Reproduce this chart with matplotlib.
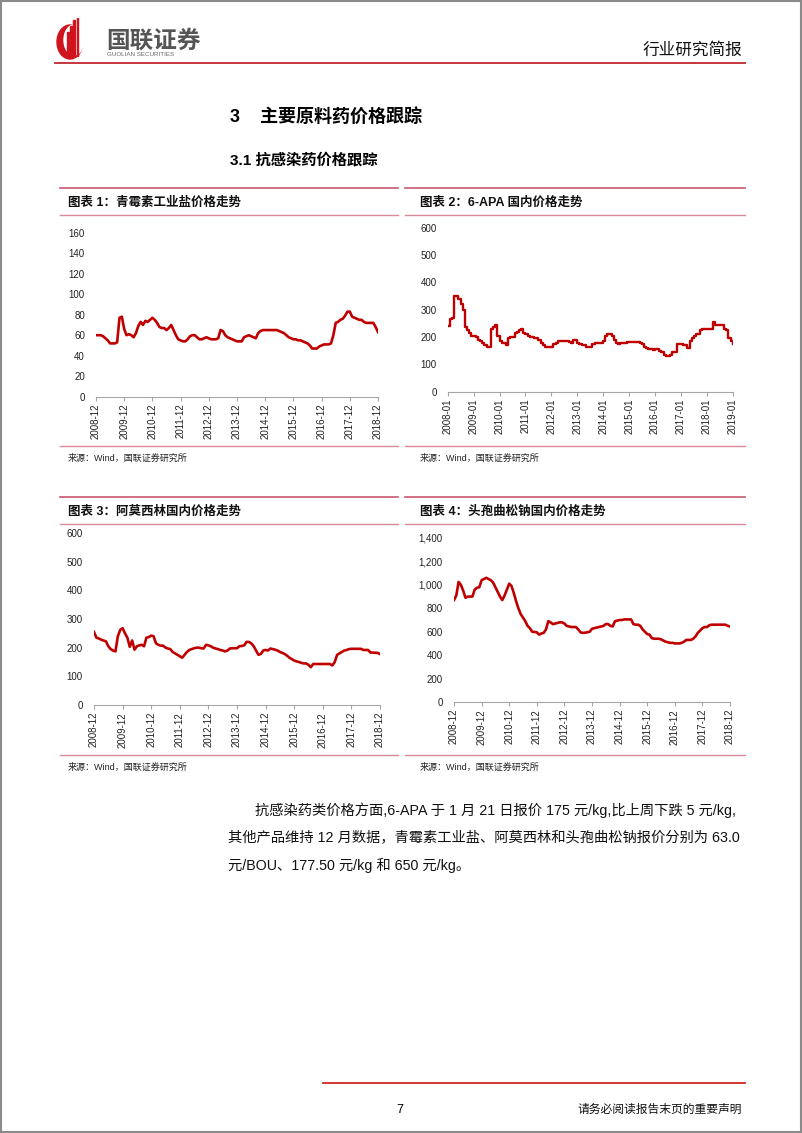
import numpy as np
import matplotlib
matplotlib.use('Agg')
import matplotlib.pyplot as plt
from matplotlib.patches import Ellipse, Rectangle
from matplotlib.ticker import FuncFormatter

plt.rcParams['font.family'] = ['Liberation Sans', 'Noto Sans CJK SC']
plt.rcParams['axes.unicode_minus'] = False

W, H = 802, 1133
RED = '#C00000'

# ---- data ----
# monthly, 2008-12 .. 2018-12
penicillin = [60, 60, 60, 59, 57, 55, 52, 52, 52, 53, 77, 78,
              66, 60, 61, 60, 58, 62, 69, 73, 70, 74, 73, 75,
              77, 75, 72, 68, 67, 67, 65, 67, 70, 65, 60, 56,
              55, 54, 54, 56, 59, 60, 60, 58, 56, 56, 57, 58,
              57, 56, 56, 56, 57, 65, 64, 60, 58, 57, 56, 55,
              54, 54, 54, 58, 59, 60, 59, 58, 57, 62, 64, 65,
              65, 65, 65, 65, 65, 65, 64, 63, 62, 60, 58, 57,
              56, 56, 55, 55, 54, 53, 52, 50, 47, 47, 47, 49,
              50, 51, 51, 51, 52, 60, 72, 73, 75, 76, 79, 83,
              83, 78, 77, 76, 75, 75, 73, 72, 72, 72, 72, 68, 63]

# monthly, 2008-01 .. 2019-01
apa6 = [240, 265, 270, 350, 350, 340, 320, 300, 235, 225, 215, 205,
        205, 200, 190, 185, 178, 170, 163, 165, 230, 235, 245, 205,
        185, 180, 180, 172, 195, 200, 200, 215, 220, 225, 228, 215,
        210, 205, 200, 200, 195, 195, 190, 180, 170, 165, 162, 165,
        165, 175, 180, 185, 185, 185, 185, 185, 182, 180, 190, 188,
        180, 175, 170, 170, 165, 165, 165, 175, 180, 180, 180, 180,
        185, 205, 210, 210, 205, 190, 180, 175, 180, 180, 180, 183,
        183, 183, 183, 183, 183, 180, 175, 165, 160, 158, 155, 152,
        155, 155, 150, 145, 135, 130, 132, 135, 145, 145, 175, 175,
        175, 170, 170, 160, 185, 195, 205, 210, 210, 225, 230, 230,
        230, 230, 230, 255, 245, 245, 245, 245, 230, 225, 195, 185,
        175]

amoxicillin = [255, 235, 232, 228, 225, 222, 205, 195, 190, 187, 240, 262,
               268, 250, 235, 203, 225, 193, 205, 208, 210, 205, 235, 237,
               242, 240, 215, 210, 207, 207, 200, 197, 195, 185, 180, 175,
               170, 165, 175, 185, 192, 195, 198, 200, 200, 198, 197, 210,
               208, 205, 200, 197, 195, 192, 190, 187, 190, 197, 198, 198,
               198, 205, 206, 208, 220, 220, 215, 205, 190, 175, 178, 190,
               192, 190, 197, 195, 193, 190, 185, 182, 178, 172, 165, 160,
               155, 152, 150, 147, 145, 145, 140, 132, 143, 143, 143, 143,
               143, 143, 143, 143, 138, 150, 175, 180, 185, 190, 192, 195,
               196, 196, 196, 196, 196, 192, 192, 192, 183, 183, 182, 182, 177.5]

ceftriaxone = [870, 910, 1025, 1000, 950, 890, 900, 900, 900, 960, 975, 980,
               1040, 1050, 1060, 1050, 1040, 1020, 980, 940, 900, 870, 910, 960,
               1010, 990, 930, 860, 800, 750, 720, 690, 650, 630, 600, 598,
               595, 575, 585, 590, 620, 690, 680, 665, 670, 675, 680, 680,
               670, 650, 645, 640, 640, 640, 620, 595, 590, 592, 595, 600,
               625, 630, 635, 640, 645, 650, 665, 665, 650, 645, 690, 695,
               700, 700, 705, 705, 705, 705, 665, 660, 660, 650, 620, 600,
               580, 575, 545, 540, 540, 540, 535, 525, 515, 510, 505, 505,
               500, 500, 500, 505, 515, 530, 530, 530, 540, 560, 590, 610,
               630, 640, 640, 655, 660, 660, 660, 660, 660, 660, 660, 650, 645]

dec_labels = ['2008-12', '2009-12', '2010-12', '2011-12', '2012-12', '2013-12',
              '2014-12', '2015-12', '2016-12', '2017-12', '2018-12']
jan_labels = ['2008-01', '2009-01', '2010-01', '2011-01', '2012-01', '2013-01',
              '2014-01', '2015-01', '2016-01', '2017-01', '2018-01', '2019-01']

titles = ['图表 1：青霉素工业盐价格走势', '图表 2：6-APA 国内价格走势',
          '图表 3：阿莫西林国内价格走势', '图表 4：头孢曲松钠国内价格走势']
source = '来源：Wind，国联证券研究所'

body = ['抗感染药类价格方面,6-APA 于 1 月 21 日报价 175 元/kg,比上周下跌 5 元/kg,',
        '其他产品维持 12 月数据，青霉素工业盐、阿莫西林和头孢曲松钠报价分别为 63.0',
        '元/BOU、177.50 元/kg 和 650 元/kg。']


fig = plt.figure(figsize=(W / 100, H / 100), dpi=100)


def fx(x):
    return x / W


def fy(y):
    return 1 - y / H


def hline(y, x0, x1, color, lw=1.0):
    fig.add_artist(plt.Line2D([fx(x0), fx(x1)], [fy(y), fy(y)], color=color, lw=lw))


# page frame
fig.add_artist(Rectangle((0.001, 0.001), 0.998, 0.998, fill=False,
                         edgecolor='#8a8a8a', lw=1.5, transform=fig.transFigure))

# ---- header ----
lax = fig.add_axes([fx(55), fy(62), fx(34), 44 / H])
lax.set_xlim(0, 34)
lax.set_ylim(0, 44)
lax.set_aspect('equal')
lax.axis('off')
lax.add_patch(Ellipse((15, 20), 26, 34, color='#D0141E'))
lax.add_patch(Ellipse((19, 22), 20, 30, color='white'))
for i, h in enumerate([24, 30, 36, 40]):
    lax.add_patch(Rectangle((12 + i * 3.2, 6), 1.6, h, color='#D0141E'))
fig.text(fx(106), fy(41), '国联证券', fontsize=17, fontweight='bold',
         color='#555555', va='center', ha='left')
fig.text(fx(107), fy(55), 'GUOLIAN SECURITIES', fontsize=4.5,
         color='#666666', va='center', ha='left')
fig.text(fx(742), fy(50), '行业研究简报', fontsize=12, color='#111111',
         va='center', ha='right')
hline(63, 55, 745, '#C0282E', lw=1.3)

# ---- section headings ----
fig.text(fx(230), fy(117), '3', fontsize=13, fontweight='bold', va='center')
fig.text(fx(260), fy(117), '主要原料药价格跟踪', fontsize=13, fontweight='bold', va='center')
fig.text(fx(230), fy(160), '3.1 抗感染药价格跟踪', fontsize=11, fontweight='bold', va='center')


# ---- charts ----
def panel(px0, px1, top, title, title_x, src_x):
    hline(top, px0, px1, '#C9566E', lw=1.2)
    fig.text(fx(title_x), fy(top + 15), title, fontsize=9, fontweight='bold',
             va='center', ha='left', color='#111111')
    hline(top + 27, px0, px1, '#D98A9A', lw=1.0)
    hline(top + 258, px0, px1, '#D98A9A', lw=1.0)
    fig.text(fx(src_x), fy(top + 270), source, fontsize=6.5, va='center',
             ha='left', color='#222222')


def chart(values, labels, step, left, right, ytop, ybot, ymax, yticks,
          fmt=None, drawstyle='default', lw=1.9):
    ax = fig.add_axes([fx(left), fy(ybot), (right - left) / W, (ybot - ytop) / H])
    x = np.arange(len(values))
    ax.plot(x, values, color=RED, lw=lw, drawstyle=drawstyle,
            solid_joinstyle='round')
    ax.set_xlim(0, len(values) - 1)
    ax.set_ylim(0, ymax)
    ax.set_xticks(np.arange(0, len(values), step))
    ax.set_xticklabels(labels, rotation=90)
    ax.set_yticks(yticks)
    if fmt:
        ax.yaxis.set_major_formatter(FuncFormatter(fmt))
    for s in ['top', 'right', 'left']:
        ax.spines[s].set_visible(False)
    ax.spines['bottom'].set_color('#a6a6a6')
    ax.spines['bottom'].set_linewidth(0.8)
    ax.tick_params(axis='x', length=3, width=0.8, color='#a6a6a6',
                   labelsize=7, pad=2, labelcolor='#222222')
    ax.tick_params(axis='y', length=0, labelsize=7, pad=8, labelcolor='#222222')
    ax.patch.set_alpha(0)
    return ax


panel(60, 398, 188, titles[0], 68, 68)
panel(405, 745, 188, titles[1], 420, 420)
panel(60, 398, 497, titles[2], 68, 68)
panel(405, 745, 497, titles[3], 420, 420)

chart(penicillin, dec_labels, 12, 96, 378, 232.7, 396.7, 160, range(0, 161, 20))
chart(apa6, jan_labels, 12, 447.7, 732.7, 227.7, 391.7, 600, range(0, 601, 100),
      drawstyle='steps-post', lw=1.7)
chart(amoxicillin, dec_labels, 12, 94, 380, 533, 705, 600, range(0, 601, 100))
chart(ceftriaxone, dec_labels, 12, 454, 730, 538, 702, 1400, range(0, 1401, 200),
      fmt=lambda v, p: '{:,.0f}'.format(v))

# ---- body text ----
fig.text(fx(255), fy(810), body[0], fontsize=10.3, va='center', ha='left', color='#111111')
fig.text(fx(228), fy(838), body[1], fontsize=10.3, va='center', ha='left', color='#111111')
fig.text(fx(228), fy(865), body[2], fontsize=10.3, va='center', ha='left', color='#111111')

# ---- footer ----
hline(1083, 323, 745, '#D01010', lw=1.2)
fig.text(fx(400), fy(1110), '7', fontsize=9, va='center', ha='center')
fig.text(fx(742), fy(1110), '请务必阅读报告末页的重要声明', fontsize=8.5,
         va='center', ha='right', color='#111111')

fig.savefig('out.png', dpi=100)
